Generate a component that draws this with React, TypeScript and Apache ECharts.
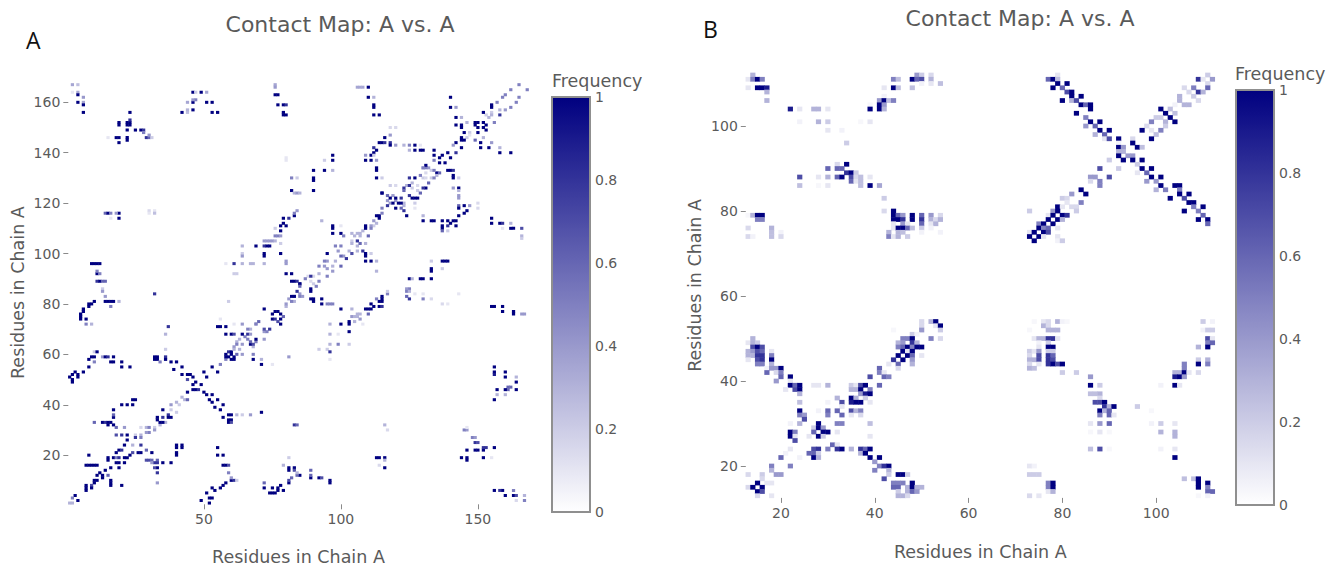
import React, { useEffect, useRef } from "react";
import * as echarts from "echarts";

const titleText = "Contact Map: A vs. A";
const axisText = "Residues in Chain A";
const ticksAX = [50, 100, 150];
const ticksAY = [20, 40, 60, 80, 100, 120, 140, 160];
const ticksBX = [20, 40, 60, 80, 100];
const ticksBY = [20, 40, 60, 80, 100];

// Panel A: [x, y, frequency]
const aTopLeft = [[2,167,.35],[4,167,.25],[2,164,.1],[4,164,.35],[4,163,1],[6,162,.4],[4,160,1],[6,160,.35],[6,159,1],[6,156,1],[19,152,1],[19,151,1],[23,156,1],[23,152,1],[22,152,1],[23,151,1],[22,151,1],[23,153,.8],[22,149,1],[25,149,1],[27,149,1],[28,149,.8],[28,148,.5],[29,146,.8],[30,146,.6],[30,147,.4],[31,146,.2],[18,146,1],[19,146,1],[22,146,1],[22,145,1],[19,144,1],[15,146,.1],[14,116,.6],[15,116,1],[16,116,.5],[19,116,1],[18,116,.4],[19,114,1],[16,114,.1],[30,117,.15],[32,117,.1],[32,116,.25],[30,116,.1],[9,96,1],[10,96,1],[11,96,1],[12,96,1],[11,92,1],[12,92,.5],[11,93,.5],[11,89,.8],[12,89,1],[13,89,.6],[14,89,.6],[13,86,.2]];
const aTopMid = [[46,164,1],[47,164,.2],[49,164,1],[51,164,.35],[44,160,.35],[46,160,1],[47,161,.5],[46,161,.4],[51,160,1],[53,160,1],[42,156,1],[44,156,.25],[44,157,.3],[46,157,1],[53,156,1],[55,156,1],[76,167,.35],[76,166,.4],[76,163,1],[77,163,1],[77,159,1],[79,159,1],[80,159,.8],[79,155,1],[79,156,1],[80,155,1],[80,138,.1],[80,137,.1],[82,130,.5],[84,130,.2],[82,125,1],[83,124,.3],[84,124,.4],[85,124,.3]];
const aStrandMid = [[84,117,.4],[83,115,1],[83,116,.5],[81,114,.8],[79,114,1],[79,112,1],[78,111,1],[80,111,1],[78,109,1],[76,110,.2],[76,107,.5],[77,107,.5],[78,107,.4],[72,105,.4],[73,105,.4],[74,105,.4],[75,105,.4],[76,105,.3],[78,104,.2],[72,103,.8],[73,103,1],[74,103,1],[69,103,1],[64,103,.3],[72,100,1],[72,99,1],[78,100,1],[64,100,.2],[64,99,.4],[61,96,.8],[58,96,.1],[64,96,.3],[68,96,.3],[67,96,.3],[72,96,.3],[80,96,.4],[80,97,.4],[80,92,1],[82,92,1],[82,89,1],[83,89,1],[84,89,.8],[85,88,.8],[61,92,.2],[62,92,.2]];
const aUpperRight = [[106,166,.35],[107,166,.35],[108,166,.35],[110,166,1],[110,162,1],[112,162,.3],[112,158,1],[112,159,1],[112,155,1],[114,155,1],[118,150,.15],[120,150,.15],[118,147,.4],[116,146,1],[118,144,.8],[114,144,1],[115,144,1],[116,144,.8],[112,142,.8],[113,141,1],[112,140,1],[111,139,1],[112,139,.2],[109,139,.4],[109,137,1],[111,137,1],[113,137,.4],[118,143,1],[120,143,.4],[123,143,.3],[125,143,.5],[125,141,.3],[127,143,1],[127,141,1],[129,141,1],[130,141,1],[129,143,.1],[134,141,1],[134,139,1],[134,137,.5],[97,139,1],[97,137,1],[94,137,.2],[90,133,1],[94,133,1],[97,133,.3],[90,130,1],[90,129,1],[90,125,1],[113,134,1],[113,133,1],[113,130,1],[115,130,.2],[115,124,1],[118,127,.2],[120,127,.15]];
const aDiagHigh = [[165,167,.5],[162,165,.5],[160,163,.5],[159,162,.5],[157,160,.5],[168,165,.5],[165,162,.5],[164,160,.5],[162,158,.5],[160,157,.4],[158,157,.3],[140,162,1],[140,158,1],[142,158,.4],[142,154,1],[144,154,.3],[155,158,1],[155,159,1],[152,156,1],[149,152,1],[150,152,1],[152,152,1],[149,151,1],[153,151,1],[150,150,1],[152,150,1],[155,155,.3],[154,154,.3],[158,155,.8],[156,152,.5],[153,149,1],[150,148,1],[144,151,1],[144,150,1],[146,152,.3],[142,151,1],[145,148,1],[147,147,.1],[144,145,1],[145,145,1],[144,146,1],[142,144,1],[141,143,.4],[144,142,1],[142,140,.8],[151,144,1],[152,146,.3],[149,145,.6],[151,142,1],[154,142,1],[155,144,.4],[158,142,.3],[158,140,1],[162,140,1],[139,140,1],[137,139,1],[140,138,1],[136,138,1],[138,136,1],[136,136,1],[139,133,1],[140,133,1],[141,133,.8],[135,132,1],[136,132,.6],[131,135,1],[130,134,.5],[134,133,.5],[129,131,.5],[135,131,.3],[132,128,.6],[134,130,.5],[125,130,.8],[127,130,1],[125,127,.8],[123,126,.8],[131,126,1],[130,126,.8],[127,122,1],[128,122,1],[126,122,1],[129,124,.6],[123,125,.6],[125,123,.8],[115,124,1],[117,123,.6],[118,122,1],[120,122,1],[122,122,.8],[117,119,.8],[119,120,1],[121,120,1],[122,120,1],[120,118,1],[122,118,.6],[123,117,.8],[124,115,1],[115,118,.5],[127,120,.2],[127,118,.1]];
const aDiagMid = [[113,115,1],[114,115,1],[114,114,1],[115,116,.5],[112,113,.4],[111,111,.4],[109,111,1],[109,110,1],[111,110,.5],[110,107,.6],[106,108,.3],[104,108,.3],[106,105,.8],[107,107,.3],[107,104,.6],[109,104,.3],[104,104,.3],[100,103,.5],[98,103,.5],[95,100,1],[99,101,.4],[100,99,.6],[104,100,.7],[102,98,.8],[108,101,.8],[109,100,1],[109,99,1],[111,100,.2],[106,101,.3],[100,95,.6],[94,97,.5],[92,95,.5],[97,93,.4],[95,91,.5],[89,91,.8],[92,89,.5],[85,88,1],[87,90,.5],[91,87,.5],[89,86,1],[109,97,1],[111,97,1],[113,97,.3],[113,93,.3],[137,97,1],[138,97,1],[139,97,1],[133,97,.2],[133,94,1],[133,93,1],[137,94,.2],[133,90,1],[125,90,1],[126,90,.3],[129,90,1],[130,90,1],[125,86,.5],[124,86,.4],[97,111,1],[97,110,1],[97,108,1],[93,113,.3],[100,111,.1],[100,108,1],[101,107,.5]];
const aRightMid = [[130,115,.3],[130,113,1],[133,113,1],[134,113,1],[137,113,1],[139,113,1],[137,111,1],[137,110,1],[139,111,.8],[140,112,1],[141,113,1],[142,111,1],[143,115,1],[142,113,1],[145,116,1],[146,117,1],[143,119,.6],[145,119,1],[143,118,1],[147,119,.4],[150,120,.15],[150,118,.15],[143,123,.4],[143,122,.4],[141,126,.4],[143,126,1],[143,125,.3],[141,130,1],[141,131,1],[143,130,.2],[155,114,1],[155,112,1],[158,112,1],[159,112,.8],[162,112,.3],[162,110,1],[163,110,1],[159,110,.1],[166,110,.7],[166,107,.3],[166,106,.2],[137,109,.6],[139,109,.2]];
const aLeftMid = [[13,85,.4],[14,83,.4],[14,81,1],[15,81,1],[16,81,1],[17,81,1],[10,81,1],[8,80,1],[9,80,1],[8,79,1],[6,78,1],[6,77,1],[5,76,1],[5,75,1],[5,74,1],[7,74,1],[7,72,.5],[9,72,.3],[19,81,.3],[16,79,.5],[32,84,.8],[10,61,.2],[11,61,1],[9,59,1],[10,59,1],[13,59,.4],[14,59,1],[15,59,.8],[17,59,1],[17,57,1],[16,57,1],[10,57,.5],[8,58,1],[8,55,1],[6,53,1],[1,51,1],[3,53,1],[4,52,1],[2,52,1],[4,51,1],[2,49,1],[2,50,1],[20,57,1],[20,55,1],[23,55,1],[33,59,1],[32,59,1],[32,58,1],[33,58,1],[36,59,.8],[36,58,1],[36,62,.2],[36,68,.3],[37,71,.8],[34,57,.5],[38,57,1],[40,57,1],[39,54,1],[42,55,1],[44,52,1],[45,52,1],[42,52,1],[46,51,1],[44,50,.7]];
const aCenter = [[46,48,1],[49,48,1],[47,49,1],[47,46,1],[48,46,.8],[46,46,1],[51,51,1],[53,55,1],[50,53,1],[55,53,1],[56,56,.5],[58,58,.5],[58,60,1],[58,59,1],[60,60,1],[60,58,1],[59,59,1],[61,59,1],[61,58,1],[59,61,.8],[60,61,1],[62,60,.6],[61,62,.3],[64,60,.4],[68,60,.5],[68,58,1],[71,58,.3],[71,56,1],[75,56,.1],[81,59,.4],[62,64,.5],[66,66,.5],[64,68,1],[66,68,.8],[67,64,1],[68,64,.7],[67,65,.6],[69,66,1],[72,66,.4],[72,70,.7],[70,73,.6],[74,70,.8],[69,72,.5],[66,70,.5],[67,68,.4],[60,68,1],[61,68,.7],[58,68,1],[55,71,1],[56,71,1],[58,71,1],[64,72,.4],[61,72,.1],[56,74,.1],[59,81,.2],[75,76,1],[75,74,1],[76,77,1],[77,77,1],[78,76,1],[79,75,.6],[76,74,.8],[78,74,1],[77,73,.7],[72,78,1],[78,72,1],[83,83,.5],[84,85,.8],[82,81,.5],[85,83,.5],[80,80,.4],[89,85,1],[85,87,.6],[83,83,1],[82,83,1],[86,83,.4],[89,82,1],[90,82,1],[90,81,1]];
const aCenterLow = [[50,45,1],[51,44,1],[53,44,1],[52,42,1],[53,41,1],[55,42,1],[57,40,1],[54,39,1],[56,38,1],[57,35,1],[59,36,1],[60,36,1],[59,34,1],[60,34,1],[59,33,1],[60,33,.7],[62,36,.3],[67,36,.4],[71,37,1],[64,36,.2],[44,45,1],[40,41,.3],[44,42,.6],[38,40,.4],[35,38,1],[40,37,.2],[37,36,.8],[33,35,1],[33,34,1],[35,35,.8],[35,33,1],[34,33,1],[37,35,1],[38,35,1],[30,31,.5],[29,29,.4],[32,30,.4],[27,28,.3],[27,27,.5],[25,27,.8],[22,26,1],[27,24,.8]];
const aLowLeft = [[24,42,1],[25,42,1],[20,40,1],[22,40,1],[24,40,1],[17,38,1],[17,35,1],[17,36,.6],[10,33,.6],[13,33,1],[14,33,.8],[15,33,1],[16,33,1],[15,32,1],[17,32,1],[18,31,.6],[21,31,.4],[18,28,.7],[22,28,1],[20,28,.8],[19,22,1],[18,21,1],[20,22,.8],[17,19,1],[15,19,1],[15,18,1],[19,17,1],[21,17,1],[22,19,1],[21,19,1],[23,20,1],[26,21,1],[24,21,.7],[21,24,1],[24,24,.3],[18,19,.5],[19,19,.8],[18,17,1],[8,20,1],[7,16,1],[8,16,1],[9,16,1],[10,16,1],[11,16,1],[16,9,1],[16,10,1],[16,8,1],[20,8,1],[19,15,1],[16,15,1],[14,14,1],[12,13,1],[13,12,1],[11,12,1],[15,12,.6],[10,10,1],[11,10,1],[10,9,1],[13,11,1],[9,8,.7],[7,8,1],[7,7,1],[9,7,1],[7,6,1],[3,4,1],[2,3,.5],[4,2,1],[1,1,.3],[2,1,.3]];
const aLowMid = [[29,22,.6],[27,21,1],[31,21,1],[29,18,.7],[30,18,.7],[31,18,.6],[33,18,.6],[32,17,.8],[33,17,.8],[31,17,.4],[33,15,1],[32,15,.7],[33,13,.8],[33,9,.4],[35,17,1],[38,17,1],[40,24,1],[40,23,1],[42,23,1],[42,24,1],[40,20,1],[40,21,1],[55,23,1],[55,20,1],[57,20,1],[57,16,1],[58,16,1],[59,16,.7],[59,13,.5],[60,10,1],[61,10,.8],[58,9,1],[60,11,.4],[62,10,.2],[56,7,1],[57,8,1],[54,6,1],[53,7,1],[53,3,1],[52,3,1],[51,5,1],[49,2,1],[52,1,1],[72,9,.6],[72,7,1],[75,7,1],[77,7,1],[78,8,1],[81,9,1],[82,11,.6],[74,5,1],[75,5,1],[76,5,1],[77,6,1],[79,6,1],[81,15,1],[81,14,1],[83,15,1],[83,14,.7],[85,12,1],[84,12,.6],[84,13,.3],[81,19,.2],[79,16,.3],[89,14,.6],[89,11,1],[89,12,.6],[92,11,1],[93,11,.7],[96,10,1],[96,9,1],[81,10,.7]];
const aLowRight = [[93,82,1],[93,80,1],[95,80,.5],[96,80,.5],[97,80,.5],[100,78,1],[104,78,.3],[104,75,.4],[105,75,.3],[106,75,.3],[106,76,.3],[107,76,.3],[107,74,.4],[105,73,.3],[108,72,.1],[110,78,1],[109,78,1],[111,78,1],[110,76,.6],[111,80,1],[112,79,1],[114,79,1],[115,79,.8],[114,81,1],[115,81,1],[115,82,1],[115,83,1],[117,84,.5],[117,85,.2],[113,82,.5],[124,85,.5],[125,85,.3],[124,83,.6],[125,82,.8],[130,82,.5],[133,82,.15],[127,84,.1],[130,84,.1],[137,80,.15],[139,80,.1],[143,84,.1],[96,72,.3],[100,72,1],[103,72,1],[103,73,1],[103,69,1],[96,68,.3],[99,68,.1],[96,64,.3],[99,64,.5],[103,64,.2],[92,62,.2],[95,62,.2],[96,61,.8],[96,58,.1],[155,79,1],[156,79,1],[159,79,1],[159,77,1],[163,77,1],[163,76,1],[166,76,.4],[167,76,.4],[156,55,1],[156,53,1],[156,52,.9],[160,53,1],[160,51,1],[164,51,.3],[164,49,1],[164,46,1],[161,47,.6],[162,47,.6],[161,46,.6],[160,46,1],[157,46,1],[157,44,.3],[160,44,.3],[156,42,1],[83,32,.8],[84,32,.6],[116,32,.3],[117,30,.15],[113,19,1],[114,19,1],[116,19,1],[116,18,.3],[114,16,.15],[116,15,1],[146,30,.4],[145,30,.5],[146,31,.1],[148,27,.5],[149,27,.4],[149,25,.8],[150,25,.7],[149,22,1],[150,22,1],[146,22,1],[152,22,1],[153,23,.8],[152,23,.8],[156,23,1],[144,19,1],[146,19,1],[146,18,1],[152,19,1],[155,19,.1],[156,6,1],[159,6,1],[158,6,.8],[160,4,1],[163,6,.5],[163,4,1],[164,4,.7],[167,4,.3],[167,2,.5],[164,2,.15]];
// Pale cells along the diagonal bands
const aDiagFaint = [[131,132,.15],[133,130,.2],[130,130,.2],[131,130,.15],[133,133,.2],[130,134,.3],[132,134,.4],[131,134,.5],[126,126,.2],[128,125,.2],[124,127,.3],[126,128,.3],[128,127,.15],[120,121,.4],[119,123,.4],[123,120,.3],[123,119,.3],[117,121,.4],[118,120,.4],[113,112,.3],[112,111,.2],[108,109,.3],[107,108,.3],[105,107,.3],[104,105,.2],[106,103,.3],[103,101,.3],[101,99,.4],[94,95,.4],[95,94,.4],[97,95,.3],[92,92,.3],[89,89,.15],[90,91,.15],[88,91,.15],[90,88,.2],[98,97,.3],[95,97,.4],[25,28,.2],[27,31,.15],[29,31,.3],[30,29,.5],[32,31,.2],[34,32,.3],[36,33,.3],[38,38,.2],[42,43,.3],[41,40,.2],[43,42,.3],[63,66,.3],[65,67,.5],[67,70,.3],[69,72,.4],[62,65,.3],[61,63,.4],[64,64,.4],[63,62,.3],[68,63,.3],[69,65,.5],[72,69,.4],[73,69,.5],[81,82,.4],[83,81,.3],[85,84,.4],[80,79,.3],[155,156,.2],[153,155,.2],[147,148,.2],[146,146,.2]];

// Panel B, one list per row: [y, x, frequency, x, frequency, ...]
const bUpperLeft = [
[112,14,.3,49,.4,50,.2,52,.15],[111,13,.1,14,.5,15,1,16,.5,44,.5,45,.25,48,1,49,.6,50,.7,52,.3],[110,50,.05,52,.1,54,.25],[109,13,.1,15,1,16,1,17,.9,42,.1,44,1,45,.25,48,.25],[108,17,.3],[107,42,.05],[106,17,.3,41,.4,42,1,43,.25,44,.5],[105,39,.03,41,1,42,.4],[104,22,.9,24,.1,27,.3,28,.3,30,.1,39,1,41,1,42,.3],[101,24,.05,28,.3,30,.2,37,.03,39,.1],[99,30,.1,33,.05],[96,34,.2],[91,32,.15,34,1],[90,30,.6,32,.6,33,.6],[89,34,.8,35,1,36,.2],[88,24,.7,28,.1,30,.3,32,.6,33,1,35,.7,36,.15,37,.25,39,.1],[87,35,.6,36,.1,37,.25],[86,24,.25,28,.03,30,.1,37,.25,39,1,41,.35],[83,42,.2],[80,42,.15,44,1],[79,13,.03,14,.3,15,1,16,1,44,1,45,.6,46,.4,48,1,50,.6,52,.4,54,.15],[78,15,.5,16,.5,44,1,45,1,46,.8,48,1,50,.8,52,.3,53,.15,54,.3],[77,44,.1,46,.4,47,.1,50,.6,52,.1,53,.3],[76,13,.15,18,.3,44,.1,45,1,46,1,47,.6,48,.25,50,.2,52,.05],[75,18,.25,20,.05,43,.3,45,.3,46,.25,50,.05,54,.05],[74,13,.15,14,.05,18,.25,20,.15,43,.5,44,.1,45,.3,47,.2]];
const bUpperRight = [
[112,79,.1,111,.2],[111,77,.6,78,1,79,.25,109,.8,110,.1,112,.4],[110,79,1,81,1,111,.15],[109,78,1,80,.6,106,.15,108,.5,111,.6],[108,81,.7,82,1,107,.15,109,.8,110,.3],[107,82,1,84,1,105,.3,108,.2],[106,80,1,82,.3,83,.7,105,.3,109,.15],[105,84,1,85,.6,86,1,106,.3,107,.3,104,.05],[104,86,1,101,1,103,.25],[103,83,1,102,1,104,.25],[102,85,.5,100,.2,101,.2,103,1],[101,86,1,88,1,99,.5,102,.3,104,1],[100,85,.4,87,.6,98,.15,102,.2],[99,88,1,90,1,97,1,99,.1,101,.5],[98,87,.3,89,.6,100,.25],[97,89,.1,90,.7,92,1,95,.15,99,1],[96,92,.05,95,1],[95,92,1,93,.4,96,1,97,.25],[94,92,.3,93,.3],[93,92,1,94,.4,95,.4],[92,90,.2,93,1,95,1,97,1],[91,96,.2],[90,88,.7,92,.2,97,1,99,1],[89,96,.1,98,.6],[88,86,.4,87,.4,90,.7,99,1,101,1],[87,86,.15,88,.5,98,.4,100,.4],[86,88,.5,101,1,104,1,105,1],[85,84,1,100,.3,102,.5,105,.5],[84,82,.4,85,1,105,1,107,1],[83,80,.2,81,.15,103,1,106,.7],[82,81,.1,84,.5,107,1,108,1],[81,79,1,80,.1,82,.15,83,.15,108,.5,110,1],[80,73,.2,78,.4,79,1,83,.2,106,1,109,.5],[79,77,.1,78,1,80,1,81,.8,110,.6],[78,77,1,79,1,80,.3,109,1,111,1],[77,75,.5,76,1,78,1,111,.6],[76,75,1,76,.5,77,.6,79,.1],[75,73,.1,74,1,76,1,77,.7],[74,73,1,75,1,76,.1,79,.1],[73,74,1,79,.05,80,.2]];
const bLowerLeft = [
[54,50,.15,52,.3,53,1],[53,50,.15,53,.1,54,1],[52,44,.03,50,.4,54,.2],[51,48,.2,49,.05],[50,14,.3,46,.5,47,.5,48,1,52,.5,54,.15],[49,13,.1,14,.3,15,.2,45,.3,46,.4,48,.8,49,.3],[48,14,.7,15,1,16,.7,45,.5,46,.6,47,1,48,.5,49,1,50,1],[47,13,.3,14,.4,15,.7,16,.6,18,.1,46,1,47,.1,48,1],[46,13,.3,14,.3,15,.8,16,.8,18,.5,45,1,47,1,48,.6,50,.1],[45,13,.1,15,.7,16,.8,18,1,44,.8,46,1,48,.4],[44,15,.5,16,.5,18,.3,43,.1,45,.6,48,.3],[43,17,.05,18,.4,19,.4,20,1,41,.6,45,.15],[42,17,.6,19,.15,20,.5,41,.5,42,.1],[41,20,.6,22,1,39,.7,42,.6,43,.5],[40,19,.4,22,.1],[39,22,1,23,.6,24,1,27,.1,28,.1,30,.3,35,.2,36,.1,37,.7,38,1,41,.6],[38,21,.1,23,.7,24,1,35,.3,36,.3,37,1,39,.5],[37,24,.3,37,.4,38,.9,39,1],[36,32,.3,35,1,36,.3,38,.2],[35,24,.25,30,.05,33,.7,35,.9,36,1,37,1,39,.1],[34,33,.1],[33,24,1,28,.05,30,.6,32,.6,35,.7,36,.3,37,.5],[32,24,.5,25,.4,30,.5,33,.6,35,.1,37,.15],[31,25,.7],[30,22,.05,24,.3,28,1,32,.5,33,.5,39,.25],[29,27,.2,28,1,29,.4],[28,22,1,23,.5,27,.6,29,1,30,1,32,.1],[27,22,1,23,.1,26,.1,28,1,29,.2,39,.1],[26,23,.7],[25,31,.6,32,.1],[24,22,.1,27,.7,28,.8,30,.5,32,.8,33,1,35,.3,37,.8,38,.6,39,1],[23,21,.05,26,.6,27,.6,28,.2,37,.3,38,1],[22,20,.6,24,.05,27,1,28,.3,39,1,41,1],[21,40,.4],[20,18,.5,22,.5,41,.5,42,.8,43,1],[19,18,.3,40,.5,43,.3],[18,13,.15,16,.2,19,.4,20,.4,43,.2,45,1,46,1,47,.2],[17,16,.15,42,.7],[16,15,1,17,.1,18,.1,44,.5,45,.5,46,.5,48,1],[15,13,.15,14,1,16,1,44,.6,45,.6,47,.3,48,1,49,.3,50,.3],[14,15,1,16,.7,45,.2,47,.3,48,.6,49,.4],[13,15,.15,18,.1,45,.3,46,.3,47,.15]];
const bLowerRight = [
[54,74,.03,76,.1,77,.15,79,.3,80,.05,81,.03,110,.2,112,.05],[53,76,.3,77,.15],[52,73,.03,77,.3,78,.3,79,.3,110,.05,111,.2,112,.2],[50,74,.1,75,.3,76,.3,77,.8,78,.8,79,.1,111,.7,112,.1],[49,75,.05,77,.2,111,.5,112,.6],[48,75,.1,77,1,78,1,109,.3,111,1],[47,73,.2,74,.1,75,.4,77,.2,78,.2],[46,73,.15,75,.7,77,.8,78,.6],[45,73,.3,74,.3,75,.7,77,.8,78,.7,109,.2,111,.3],[44,73,.15,75,.1,77,.8,78,1,79,.7,80,1,106,.5,109,1,111,.5],[43,73,.3,74,.25,106,.5],[42,80,.2,83,.2,104,.3,105,.3,106,1,107,.1,109,.15],[41,86,.4,104,.9,105,1,106,.4],[39,86,1,88,.2,101,.05,104,1,105,.1],[37,86,.25,87,.25,88,.3],[36,88,.15],[35,87,.7,88,.7,89,1],[34,89,.8,90,.3,91,1,96,.2],[33,88,1,89,.3,90,.6,99,.03],[32,88,.5,90,.6,91,.1],[30,86,.1,88,.4,90,.6,99,.05,101,.2,104,.1],[28,86,.03,88,.1,90,.03,101,.3,104,.3],[27,104,.3],[24,86,.25,88,.7,90,.03,101,.05,104,.1],[22,104,1],[20,73,.1,74,.05],[18,73,.2,74,.2,75,.2],[17,106,.25,108,.25,109,1],[16,77,.5,78,1,109,1,111,1],[15,77,.5,78,1,109,1,111,.5],[14,77,.1,78,.3,111,.6,112,.6],[13,73,.15,75,.1,109,.03,111,.05]];

const aCells = [aDiagFaint, aTopLeft, aTopMid, aStrandMid, aUpperRight, aDiagHigh, aDiagMid, aRightMid, aLeftMid, aCenter, aCenterLow, aLowLeft, aLowMid, aLowRight].flat();
const bRows = [...bUpperLeft, ...bUpperRight, ...bLowerLeft, ...bLowerRight];

const range = (a: number, b: number) => Array.from({ length: b - a + 1 }, (_, i) => String(a + i));
const gray = "#5a5a5a";
const tickGray = "#8a8a8a";
const font = "'DejaVu Sans'";
const colorRamp = ["#ffffff", "#000080"];

function catAxis(cats: string[], ticks: number[], name: string, gridIndex: number, gap: number) {
  const shown = (_: number, v: string) => ticks.includes(Number(v));
  return {
    type: "category",
    gridIndex,
    data: cats,
    name,
    nameLocation: "middle",
    nameGap: gap,
    nameTextStyle: { color: gray, fontFamily: font, fontSize: 17.5 },
    axisLine: { show: false },
    axisTick: { show: true, alignWithLabel: true, interval: shown, length: 5, lineStyle: { color: tickGray } },
    axisLabel: { interval: shown, color: gray, fontFamily: font, fontSize: 14, margin: 8 },
    splitLine: { show: false },
    splitArea: { show: false },
  };
}

function barAxis(gridIndex: number) {
  return {
    type: "value",
    gridIndex,
    position: "right",
    min: 0,
    max: 1,
    interval: 0.2,
    axisLine: { show: false },
    axisTick: { show: false },
    splitLine: { show: false },
    axisLabel: { color: gray, fontFamily: font, fontSize: 14, margin: 5, formatter: (v: number) => String(v) },
  };
}

export default function App() {
  const ref = useRef<HTMLDivElement>(null);
  useEffect(() => {
    const chart = echarts.init(ref.current!, undefined, { renderer: "svg" });
    const dataB: any[][] = [];
    bRows.forEach((r) => {
      for (let i = 1; i < r.length; i += 2) dataB.push([String(r[i]), String(r[0]), r[i + 1]]);
    });
    const dataA = aCells.map((c) => [String(c[0]), String(c[1]), c[2]]);
    const catsA = range(1, 168);
    const catsB = range(13, 112);
    const bar = (left: number, top: number) => ({
      type: "rect",
      shape: { x: left, y: top, width: 38, height: 415 },
      style: { fill: "none", stroke: "#8f8f8f", lineWidth: 2 },
      z: 20,
    });
    const label = (text: string, x: number, y: number) => ({
      type: "text",
      x,
      y,
      style: { text, fontFamily: "'Open Sans'", fontSize: 23, fill: "#111" },
    });
    const titleStyle = (size: number) => ({ color: gray, fontFamily: font, fontSize: size, fontWeight: "normal" });
    chart.setOption({
      animation: false,
      backgroundColor: "#ffffff",
      title: [
        { text: titleText, left: 335, top: 8, textAlign: "center", textStyle: titleStyle(22) },
        { text: titleText, left: 1015, top: 2, textAlign: "center", textStyle: titleStyle(22) },
        { text: "Frequency", left: 547, top: 67, textStyle: titleStyle(17.5) },
        { text: "Frequency", left: 1230, top: 60, textStyle: titleStyle(17.5) },
      ],
      grid: [
        { left: 68.3, top: 80.9, width: 460.3, height: 423.4, outerBoundsMode: "none" },
        { left: 745.8, top: 72.9, width: 469, height: 425, outerBoundsMode: "none" },
        { left: 589, top: 97, width: 1, height: 415, outerBoundsMode: "none" },
        { left: 1273, top: 90, width: 1, height: 415, outerBoundsMode: "none" },
      ],
      xAxis: [
        catAxis(catsA, ticksAX, axisText, 0, 44),
        catAxis(catsB, ticksBX, axisText, 1, 45),
        { type: "value", gridIndex: 2, show: false },
        { type: "value", gridIndex: 3, show: false },
      ],
      yAxis: [
        catAxis(catsA, ticksAY, axisText, 0, 41),
        catAxis(catsB, ticksBY, axisText, 1, 42),
        barAxis(2),
        barAxis(3),
      ],
      visualMap: [
        { type: "continuous", seriesIndex: 0, min: 0, max: 1, left: 552, top: 97, itemWidth: 38, itemHeight: 415, padding: 0, text: ["", ""], showLabel: false, calculable: false, inRange: { color: colorRamp }, textStyle: { fontSize: 0 } },
        { type: "continuous", seriesIndex: 1, min: 0, max: 1, left: 1236, top: 90, itemWidth: 38, itemHeight: 415, padding: 0, text: ["", ""], showLabel: false, calculable: false, inRange: { color: colorRamp }, textStyle: { fontSize: 0 } },
      ],
      series: [
        { type: "heatmap", xAxisIndex: 0, yAxisIndex: 0, data: dataA, progressive: 0, emphasis: { disabled: true } },
        { type: "heatmap", xAxisIndex: 1, yAxisIndex: 1, data: dataB, progressive: 0, emphasis: { disabled: true } },
      ],
      graphic: [bar(552, 97), bar(1236, 90), label("A", 26, 28), label("B", 703, 17)],
    });
    return () => chart.dispose();
  }, []);
  return <div ref={ref} style={{ position: "absolute", left: 0, top: 0, width: 1330, height: 566 }} />;
}
